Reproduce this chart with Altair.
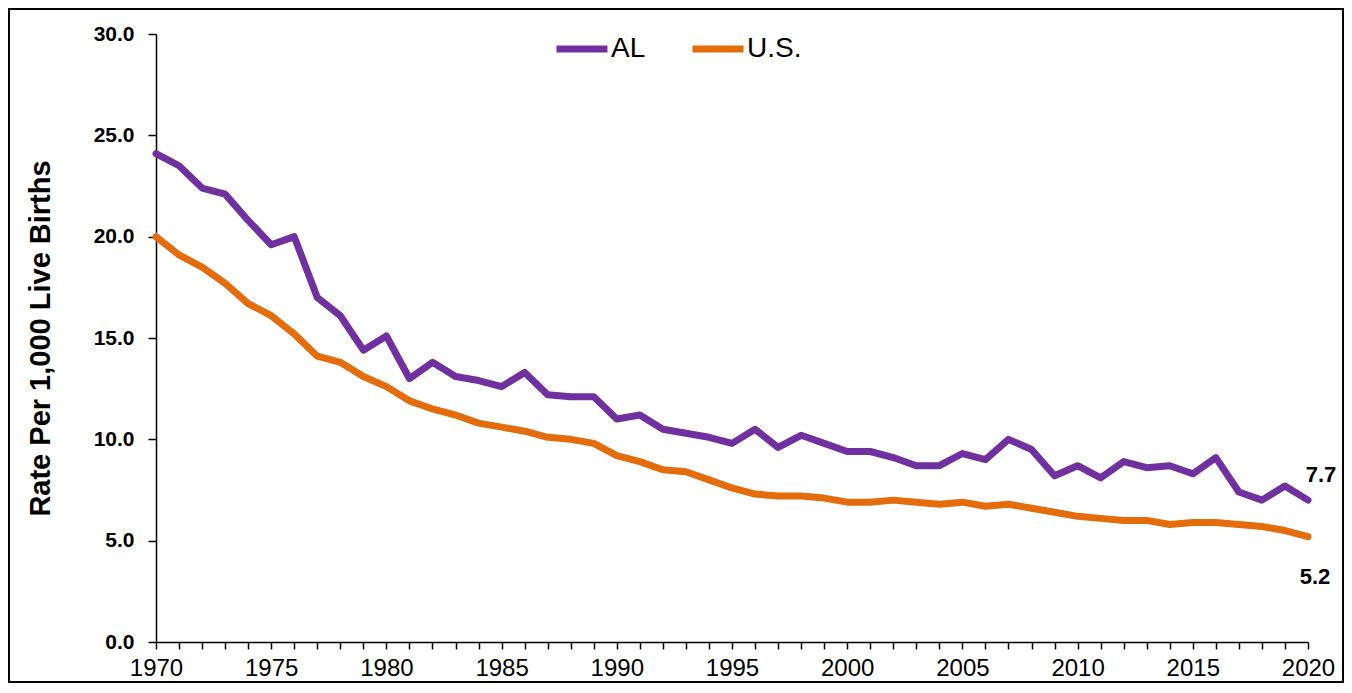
import altair as alt
import pandas as pd

years = list(range(1970, 2021))
al_rate = [24.1, 23.5, 22.4, 22.1, 20.8, 19.6, 20.0, 17.0, 16.1, 14.4,
           15.1, 13.0, 13.8, 13.1, 12.9, 12.6, 13.3, 12.2, 12.1, 12.1,
           11.0, 11.2, 10.5, 10.3, 10.1, 9.8, 10.5, 9.6, 10.2, 9.8,
           9.4, 9.4, 9.1, 8.7, 8.7, 9.3, 9.0, 10.0, 9.5, 8.2,
           8.7, 8.1, 8.9, 8.6, 8.7, 8.3, 9.1, 7.4, 7.0, 7.7,
           7.0]
us_rate = [20.0, 19.1, 18.5, 17.7, 16.7, 16.1, 15.2, 14.1, 13.8, 13.1,
           12.6, 11.9, 11.5, 11.2, 10.8, 10.6, 10.4, 10.1, 10.0, 9.8,
           9.2, 8.9, 8.5, 8.4, 8.0, 7.6, 7.3, 7.2, 7.2, 7.1,
           6.9, 6.9, 7.0, 6.9, 6.8, 6.9, 6.7, 6.8, 6.6, 6.4,
           6.2, 6.1, 6.0, 6.0, 5.8, 5.9, 5.9, 5.8, 5.7, 5.5,
           5.2]
series_names = ["AL", "U.S."]
series_colors = ["#7030A0", "#E46C0A"]
y_ticks = [0, 5, 10, 15, 20, 25, 30]
label_years = [2020, 2020]
label_values = [7.7, 5.2]
label_texts = ["7.7", "5.2"]

FONT = "Liberation Sans"
H = 608

df = pd.DataFrame({
    "Year": years * 2,
    "Rate": al_rate + us_rate,
    "Series": [series_names[0]] * len(years) + [series_names[1]] * len(years),
})
lab = pd.DataFrame({"Year": label_years, "Rate": label_values, "Text": label_texts})

x_scale = alt.Scale(domain=[1970, 2020], nice=False, zero=False)
y_scale = alt.Scale(domain=[0, 30], nice=False)

x_axis = alt.Axis(
    orient="bottom", values=years, format="d",
    labelExpr="datum.value % 5 === 0 ? datum.label : ''",
    labelOverlap=False, labelFlush=False, labelBound=False, grid=False, title=None,
    tickSize=7, tickWidth=1.5, tickColor="black", domainColor="black", domainWidth=1.5,
    labelFontSize=24, labelFont=FONT, labelColor="black", labelPadding=7)

y_axis = alt.Axis(
    values=y_ticks, format=".1f", grid=False, labelOverlap=False,
    tickSize=8, tickWidth=1.5, tickColor="black", domainColor="black", domainWidth=1.5,
    labelFontSize=21, labelFontWeight="bold", labelFont=FONT, labelColor="black", labelPadding=14,
    title="Rate Per 1,000 Live Births", titleFont=FONT, titleFontSize=29, titleFontWeight="bold",
    titleColor="black", titleAngle=270, titleX=-116, titleY=H / 2,
    titleAlign="center", titleBaseline="middle")

X = alt.X("Year:Q", scale=x_scale, axis=x_axis)
Y = alt.Y("Rate:Q", scale=y_scale, axis=y_axis)

lines = alt.Chart(df).mark_line(strokeWidth=7, strokeJoin="round", strokeCap="round").encode(
    x=X, y=Y,
    color=alt.Color("Series:N", scale=alt.Scale(domain=series_names, range=series_colors),
                    legend=alt.Legend(orient="none", legendX=397, legendY=-14, direction="horizontal",
                                      title=None, symbolType="stroke", symbolSize=2601,
                                      symbolStrokeWidth=7, labelFontSize=28, labelFont=FONT,
                                      labelColor="black", labelOffset=0, columnPadding=32, padding=0)),
)

t1 = alt.Chart(lab).transform_filter(alt.datum.Text == "7.7").mark_text(
    font=FONT, fontSize=22, fontWeight="bold", color="black", dx=13, dy=-11, baseline="middle", align="center"
).encode(x=X, y=Y, text="Text:N")

t2 = alt.Chart(lab).transform_filter(alt.datum.Text == "5.2").mark_text(
    font=FONT, fontSize=22, fontWeight="bold", color="black", dx=7, dy=40, baseline="middle", align="center"
).encode(x=X, y=Y, text="Text:N")

border = alt.Chart(pd.DataFrame({"k": [0]})).mark_rect(
    fillOpacity=0, stroke="black", strokeWidth=2
).encode(x=alt.value(-147), x2=alt.value(1187), y=alt.value(-25), y2=alt.value(648))

chart = alt.layer(border, lines, t1, t2).properties(
    width=1152, height=H,
    background="white",
    padding={"left": 148, "top": 26, "right": 36, "bottom": 41},
    autosize=alt.AutoSizeParams(type="none"),
).configure_view(strokeWidth=0, stroke="transparent").configure_axis(labelOverlap=False)

chart.save("out.html", embed_options={"renderer": "svg", "actions": False})
